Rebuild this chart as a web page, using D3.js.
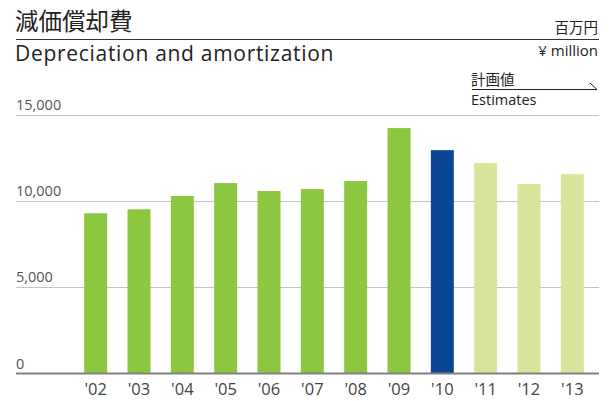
<!DOCTYPE html>
<html>
<head>
<meta charset="utf-8">
<script src="https://cdn.jsdelivr.net/npm/d3@7"></script>
<style>
  body { margin: 0; background: #fff; }
  svg { display: block; font-family: "Open Sans", "Noto Sans", sans-serif; }
  .jp { font-family: "Noto Sans CJK JP", sans-serif; }
</style>
</head>
<body>
<div id="chart"></div>
<script>
var years = ["'02", "'03", "'04", "'05", "'06", "'07", "'08", "'09", "'10", "'11", "'12", "'13"];
var values = [9300, 9530, 10300, 11050, 10590, 10700, 11170, 14240, 12960, 12210, 10990, 11570];
var kinds = ["actual", "actual", "actual", "actual", "actual", "actual", "actual", "actual", "current", "plan", "plan", "plan"];
var yTicks = [0, 5000, 10000, 15000];

var colors = { actual: "#8dc63f", current: "#0b4595", plan: "#d6e59b" };

var W = 611, H = 401;
var svg = d3.select("#chart").append("svg").attr("width", W).attr("height", H);

var x = d3.scaleBand().domain(years).range([74, 594]).paddingInner(0.47).paddingOuter(0.235);
var y = d3.scaleLinear().domain([0, 15000]).range([373.5, 115]);

// gridlines
svg.append("g").selectAll("line")
  .data(yTicks.filter(function (d) { return d > 0; }))
  .enter().append("line")
  .attr("x1", 16).attr("x2", 599)
  .attr("y1", function (d) { return Math.round(y(d)) + 0.5; })
  .attr("y2", function (d) { return Math.round(y(d)) + 0.5; })
  .attr("stroke", "#c4c4c4").attr("stroke-width", 1);

svg.append("g").selectAll("text")
  .data(yTicks)
  .enter().append("text")
  .attr("x", 16)
  .attr("y", function (d) { return y(d) - 5; })
  .attr("font-size", 14.5).attr("fill", "#555")
  .text(function (d) { return d3.format(",")(d); });

// bars
svg.append("g").selectAll("rect")
  .data(values)
  .enter().append("rect")
  .attr("x", function (d, i) { return x(years[i]); })
  .attr("width", x.bandwidth())
  .attr("y", function (d) { return y(d); })
  .attr("height", function (d) { return y(0) - y(d); })
  .attr("fill", function (d, i) { return colors[kinds[i]]; });

// baseline
svg.append("line")
  .attr("x1", 16).attr("x2", 599)
  .attr("y1", y(0)).attr("y2", y(0))
  .attr("stroke", "#808080").attr("stroke-width", 2);

// x axis labels
var xAxis = d3.axisBottom(x).tickSize(0).tickPadding(0);
var gx = svg.append("g").attr("transform", "translate(0," + y(0) + ")").call(xAxis);
gx.select(".domain").remove();
gx.selectAll("text")
  .attr("font-size", 16.5).attr("fill", "#444")
  .attr("font-family", "'Open Sans', sans-serif")
  .attr("dy", null).attr("y", 21);

// titles
svg.append("text").attr("class", "jp")
  .attr("x", 15).attr("y", 30)
  .attr("font-size", 23.5).attr("fill", "#222")
  .text("減価償却費");
svg.append("line")
  .attr("x1", 16).attr("x2", 599).attr("y1", 39.5).attr("y2", 39.5)
  .attr("stroke", "#333").attr("stroke-width", 1.2);
svg.append("text")
  .attr("x", 15).attr("y", 61)
  .attr("font-size", 21).attr("letter-spacing", 0.7).attr("fill", "#222")
  .text("Depreciation and amortization");

svg.append("text").attr("class", "jp")
  .attr("x", 598).attr("y", 33).attr("text-anchor", "end")
  .attr("font-size", 14.5).attr("fill", "#222")
  .text("百万円");
svg.append("text")
  .attr("x", 598).attr("y", 56).attr("text-anchor", "end")
  .attr("font-size", 15).attr("fill", "#222")
  .text("¥ million");

// estimates marker
svg.append("text").attr("class", "jp")
  .attr("x", 471).attr("y", 85)
  .attr("font-size", 14.5).attr("fill", "#222")
  .text("計画値");
svg.append("path")
  .attr("d", "M472,89.5H597L590,83")
  .attr("fill", "none").attr("stroke", "#222").attr("stroke-width", 1);
svg.append("text")
  .attr("x", 471).attr("y", 104.5)
  .attr("font-size", 14.5).attr("fill", "#222")
  .text("Estimates");
</script>
</body>
</html>
